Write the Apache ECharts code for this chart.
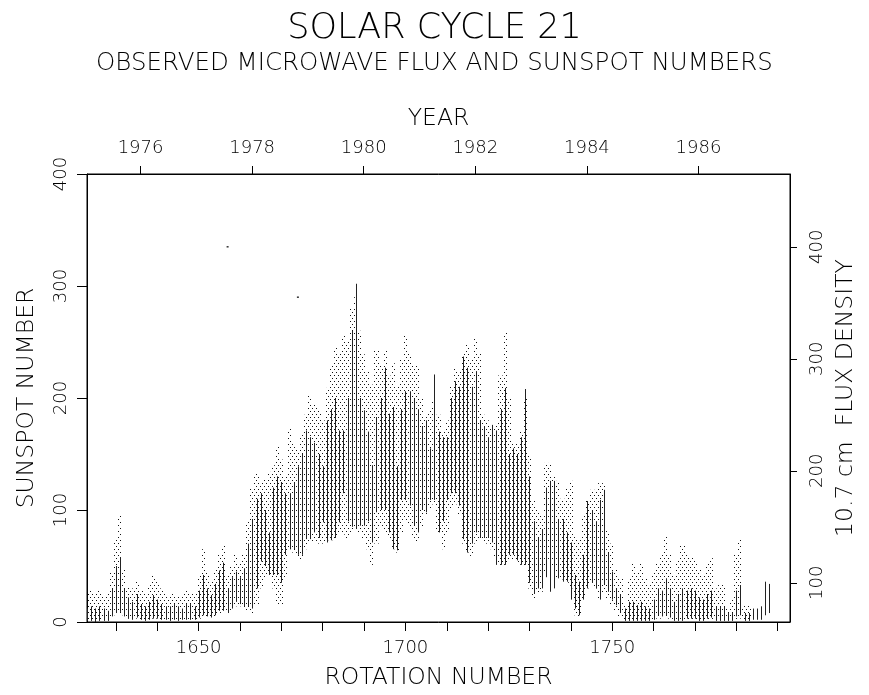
<!DOCTYPE html>
<html><head><meta charset="utf-8">
<script src="https://cdn.jsdelivr.net/npm/echarts@6/dist/echarts.min.js"></script>
<style>html,body{margin:0;padding:0;background:#fff}#c{width:869px;height:695px}</style>
</head><body><div id="c"></div>
<script>
// Carrington rotation of the first column
const firstRotation = 1623;
// dotted band (upper / lower edge), in sunspot-number units, one per rotation 1623..1790
const dotHigh = [26,28,26,28,24,26,45,75,96,48,32,30,36,28,26,33,42,36,30,26,24,26,23,24,28,26,25,42,65,44,36,48,60,68,42,50,61,52,60,90,120,134,125,128,134,140,157,145,130,173,160,155,168,185,202,195,189,180,209,230,246,
240,256,250,280,290,260,239,225,212,243,230,243,220,231,210,235,256,240,230,230,200,183,190,198,185,171,180,210,227,225,240,249,235,253,240,185,180,176,175,220,259,200,159,160,170,200,
150,109,100,96,142,142,130,126,110,120,126,77,74,95,109,118,118,124,124,83,70,48,40,15,40,52,45,52,40,33,45,52,60,77,60,42,55,68,60,58,55,48,42,52,57,30,33,33,12,20,60,74,15,15,null,null,null,null,null,null,null];
const dotLow = [1,1,1,1,1,2,4,6,8,6,3,2,3,2,1,2,3,3,2,2,1,2,1,2,2,2,2,3,5,4,4,5,8,10,8,10,14,14,12,10,8,15,30,40,42,30,15,15,40,65,62,58,56,65,72,72,70,70,73,73,75,
80,78,75,80,83,80,75,65,51,70,85,80,75,65,62,80,90,85,75,71,85,95,100,105,80,65,80,100,105,95,70,62,59,70,75,72,70,65,55,51,51,55,55,52,51,50,
30,20,25,27,45,55,50,40,38,35,30,6,5,20,30,35,30,20,25,20,15,10,5,1,1,1,1,1,1,1,1,3,3,5,3,1,1,1,2,2,2,1,1,2,2,1,1,1,1,1,2,3,1,1,null,null,null,null,null,null,null];
// solid vertical strokes (upper / lower end), one per rotation 1623..1790
const lineHigh = [12,14,12,14,12,10,30,50,58,30,22,18,25,16,14,18,24,20,16,14,14,16,14,12,16,16,14,28,42,30,24,34,46,53,30,40,45,40,48,70,92,110,115,100,80,120,130,125,115,115,125,139,150,171,165,160,150,139,180,190,200,
171,171,200,260,302,200,189,170,140,183,200,227,186,192,139,190,206,206,200,190,175,180,155,221,170,165,165,200,215,210,237,227,210,224,180,175,165,176,171,190,209,150,155,150,165,208,
130,90,75,83,120,126,126,92,92,80,71,42,36,60,108,100,90,109,118,62,45,30,25,12,18,18,15,18,14,12,20,30,28,39,30,18,25,30,28,30,28,22,20,25,28,14,14,14,8,8,28,33,8,8,12,12,14,36,34,null,null];
const lineLow = [1,1,0,1,1,1,5,8,9,5,3,2,4,2,1,2,3,3,2,2,1,2,1,2,2,2,2,4,6,5,4,6,10,10,8,12,18,16,14,14,12,30,54,50,42,42,42,35,60,65,65,60,60,74,74,80,75,89,71,73,75,
89,115,90,85,83,86,86,90,71,98,100,100,80,65,64,109,109,104,86,80,100,98,109,109,80,90,109,115,115,104,74,62,70,80,75,75,75,71,51,51,51,60,60,55,51,51,
35,25,30,30,40,27,30,39,36,36,20,12,6,20,30,35,30,20,33,27,20,15,8,1,1,1,1,1,1,1,2,6,5,6,4,1,1,1,3,3,3,1,1,3,4,1,1,1,1,1,5,6,1,1,2,2,2,6,8,null,null];
// isolated marks
const outliers = [[1657, 335], [1674, 290]];
// axis ticks and labels
const rotationTicks = [1630,1640,1650,1660,1670,1680,1690,1700,1710,1720,1730,1740,1750,1760,1770,1780,1790];
const rotationLabels = [1650, 1700, 1750];
const yearTicks = [1976, 1978, 1980, 1982, 1984, 1986];
const sunspotTicks = [0, 100, 200, 300, 400];
const fluxTicks = [100, 200, 300, 400];

const dotData = [], lineData = [];
dotHigh.forEach((h, i) => { if (h != null) dotData.push([firstRotation + i, dotLow[i], h]); });
lineHigh.forEach((h, i) => { if (h != null) lineData.push([firstRotation + i, lineLow[i], h]); });

const pc = document.createElement('canvas'); pc.width = 4; pc.height = 6;
const pg = pc.getContext('2d'); pg.fillStyle = '#111';
pg.fillRect(0, 0, 1, 1); pg.fillRect(2, 3, 1, 1);
const dotPattern = { image: pc, repeat: 'repeat' };

const FONT = 'DejaVu Sans';
const W = 200;
const INK = '#000';
const plain = v => String(v);
const chart = echarts.init(document.getElementById('c'), null, { renderer: 'canvas' });
chart.setOption({
  animation: false,
  backgroundColor: '#fff',
  textStyle: { fontFamily: FONT, color: INK, fontWeight: W },
  title: [
    { text: 'SOLAR CYCLE 21', left: 'center', top: 6,
      textStyle: { fontFamily: FONT, fontSize: 35, fontWeight: W, color: INK } },
    { text: 'OBSERVED MICROWAVE FLUX AND SUNSPOT NUMBERS', left: 'center', top: 46,
      textStyle: { fontFamily: FONT, fontSize: 24.5, fontWeight: W, color: INK } }
  ],
  grid: { left: 87, right: 79, top: 174, bottom: 67, show: true, borderColor: INK, borderWidth: 1, backgroundColor: 'transparent' },
  xAxis: [
    { type: 'value', position: 'bottom', min: 1623, max: 1793,
      axisLine: { show: true, onZero: false, lineStyle: { color: INK, width: 1 } },
      axisTick: { show: true, inside: false, length: 9, customValues: rotationTicks, lineStyle: { color: INK } },
      axisLabel: { customValues: rotationLabels, formatter: plain, fontSize: 18, fontWeight: W, margin: 17, color: INK, fontFamily: FONT },
      splitLine: { show: false },
      name: 'ROTATION NUMBER', nameLocation: 'middle', nameGap: 44,
      nameTextStyle: { fontSize: 23.5, fontWeight: W, color: INK, fontFamily: FONT } },
    { type: 'value', position: 'top', min: 1975.04, max: 1987.64,
      axisLine: { show: true, onZero: false, lineStyle: { color: INK, width: 1 } },
      axisTick: { show: true, inside: false, length: 8, customValues: yearTicks, lineStyle: { color: INK } },
      axisLabel: { customValues: yearTicks, formatter: plain, fontSize: 18, fontWeight: W, margin: 17, color: INK, fontFamily: FONT },
      splitLine: { show: false },
      name: 'YEAR', nameLocation: 'middle', nameGap: 43,
      nameTextStyle: { fontSize: 23.5, fontWeight: W, color: INK, fontFamily: FONT } }
  ],
  yAxis: [
    { type: 'value', position: 'left', min: 0, max: 400,
      axisLine: { show: true, onZero: false, lineStyle: { color: INK, width: 1 } },
      axisTick: { show: true, inside: false, length: 10, customValues: sunspotTicks, lineStyle: { color: INK } },
      axisLabel: { customValues: sunspotTicks, formatter: plain, fontSize: 18, fontWeight: W, rotate: 90, margin: 17, align: 'center', verticalAlign: 'bottom', color: INK, fontFamily: FONT },
      splitLine: { show: false },
      name: 'SUNSPOT NUMBER', nameLocation: 'middle', nameGap: 48,
      nameTextStyle: { fontSize: 23.5, fontWeight: W, color: INK, fontFamily: FONT } },
    { type: 'value', position: 'right', min: 65, max: 465,
      axisLine: { show: true, onZero: false, lineStyle: { color: INK, width: 1 } },
      axisTick: { show: true, inside: false, length: 7, customValues: fluxTicks, lineStyle: { color: INK } },
      axisLabel: { customValues: fluxTicks, formatter: plain, fontSize: 18, fontWeight: W, rotate: 90, margin: 18, align: 'center', verticalAlign: 'top', color: INK, fontFamily: FONT },
      splitLine: { show: false },
      name: '10.7 cm  FLUX DENSITY', nameLocation: 'middle', nameGap: 41,
      nameTextStyle: { fontSize: 23.5, fontWeight: W, color: INK, fontFamily: FONT } }
  ],
  series: [
    { type: 'custom', name: 'flux', xAxisIndex: 0, yAxisIndex: 0, clip: true,
      encode: { x: 0, y: [1, 2] }, data: dotData,
      renderItem: (params, api) => {
        const a = api.coord([api.value(0) - 0.5, api.value(2)]);
        const b = api.coord([api.value(0) + 0.5, api.value(1)]);
        const x0 = Math.round(a[0]), x1 = Math.round(b[0]);
        return { type: 'rect', shape: { x: x0, y: a[1], width: x1 - x0, height: b[1] - a[1] },
                 style: { fill: dotPattern } };
      } },
    { type: 'custom', name: 'sunspots', xAxisIndex: 0, yAxisIndex: 0, clip: true,
      encode: { x: 0, y: [1, 2] }, data: lineData,
      renderItem: (params, api) => {
        const a = api.coord([api.value(0), api.value(2)]);
        const b = api.coord([api.value(0), api.value(1)]);
        const x = Math.round(a[0]) + 0.5;
        return { type: 'line', shape: { x1: x, y1: a[1], x2: x, y2: b[1] },
                 style: { stroke: '#222', lineWidth: 1 } };
      } },
    { type: 'scatter', xAxisIndex: 0, yAxisIndex: 0, data: outliers,
      symbol: 'rect', symbolSize: [2, 1.5], itemStyle: { color: INK } }
  ]
});
</script></body></html>
